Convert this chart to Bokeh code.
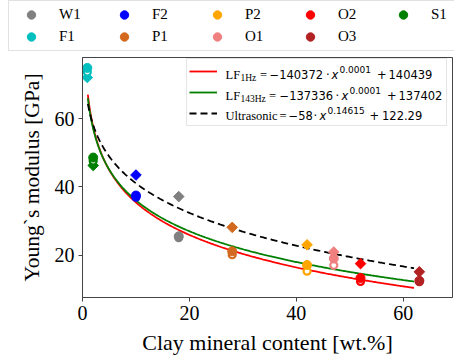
import numpy as np
from bokeh.plotting import figure
from bokeh.layouts import column
from bokeh.models import Legend, LegendItem, Label, Range1d, FixedTicker
from bokeh.embed import file_html
from bokeh.resources import INLINE

# --- measurements per sample -------------------------------------------------
samples = ["W1", "F1", "F2", "P1", "P2", "O1", "O2", "O3", "S1"]
colors = ["#808080", "#00BFBF", "#0000FF", "#D2691E", "#FFA500",
          "#F08080", "#FF0000", "#B22222", "#008000"]
clay_content = [18, 0.9, 10, 28, 42, 47, 52, 63, 2]          # wt.%
e_lf_143hz = [25.6, 74.8, 37.5, 21.2, 17.2, 19.1, 13.4, 12.6, 48.6]   # GPa
e_lf_1hz = [25.2, 73.6, 37.0, 20.2, 15.4, 17.1, 12.4, 12.3, 47.6]     # GPa
e_ultrasonic = [37.2, 72.0, 43.5, 28.2, 23.1, 21.0, 17.6, 15.2, 46.3]  # GPa

# power-law fits E = a * x**b + c  (legend shows rounded values)
fit_lf_1hz = (-140372, 0.0000975, 140439)
fit_lf_143hz = (-137336, 0.0000946, 137402)
fit_ultrasonic = (-58, 0.14615, 122.29)
fit_range = (1, 62)

x_ticks = [0, 20, 40, 60]
y_ticks = [20, 40, 60]

SERIF = "Liberation Serif"
SANS = "DejaVu Sans"

W, H = 454, 359
TOP_H = 52                      # strip holding the sample legend
# frame geometry in page pixels
FL, FR, FT, FB = 82, 452, 57, 297

# --- sample legend strip -----------------------------------------------------
top = figure(width=W, height=TOP_H, min_border=0, frame_align=False,
             x_range=Range1d(0, 1), y_range=Range1d(0, 1),
             output_backend="svg", toolbar_location=None)
top.axis.visible = False
top.grid.visible = False
top.outline_line_color = None

# off-range points: these renderers only supply the legend swatches
sample_glyphs = {}
for name, col in zip(samples, colors):
    sample_glyphs[name] = top.scatter(x=[-5], y=[-5], marker="circle",
                                      fill_color=col, line_color=col)

legend_order = ["W1", "F2", "P2", "O2", "S1", "F1", "P1", "O1", "O3"]
top_legend = Legend(
    items=[LegendItem(label=n, renderers=[sample_glyphs[n]]) for n in legend_order],
    orientation="horizontal", ncols=5,
    location=(8, TOP_H - 51),
    label_text_font=SERIF, label_text_font_size="15px", label_text_color="black",
    glyph_width=38, glyph_height=21, label_height=20,
    label_standoff=9, label_width=45, spacing=1, padding=3, margin=0,
    border_line_color="#c4c4c4", border_line_width=1,
    background_fill_color="white", background_fill_alpha=1,
)
top.add_layout(top_legend)

# --- main plot -------------------------------------------------------------
p = figure(width=W, height=H - TOP_H, frame_width=FR - FL, frame_height=FB - FT,
           min_border_left=FL, min_border_right=W - FR,
           min_border_top=FT - TOP_H, min_border_bottom=H - FB,
           frame_align=False,
           x_range=Range1d(0, 69.2), y_range=Range1d(7.7, 77.85),
           output_backend="svg", toolbar_location=None)

p.xgrid.visible = False
p.ygrid.visible = False
p.outline_line_color = "#444444"
p.outline_line_width = 1

for ax in (p.xaxis[0], p.yaxis[0]):
    ax.axis_line_color = "#444444"
    ax.major_tick_line_color = "#444444"
    ax.major_tick_in = 0
    ax.major_tick_out = 4
    ax.minor_tick_line_color = None
    ax.major_label_text_font = SERIF
    ax.major_label_text_font_size = "20px"
    ax.major_label_text_color = "black"
    ax.axis_label_text_font = SERIF
    ax.axis_label_text_font_style = "normal"
    ax.axis_label_text_color = "black"
    ax.major_label_standoff = 4

p.xaxis.axis_label_text_font_size = "22px"
p.yaxis.axis_label_text_font_size = "21.5px"
p.xaxis.ticker = FixedTicker(ticks=x_ticks)
p.yaxis.ticker = FixedTicker(ticks=y_ticks)
p.xaxis.axis_label = "Clay mineral content [wt.%]"
p.yaxis.axis_label = "Young`s modulus [GPa]"
p.xaxis.axis_label_standoff = 7
p.yaxis.axis_label_standoff = 8

# fitted curves
xf = np.linspace(fit_range[0], fit_range[1], 300)


def power_law(params, x):
    a, b, c = params
    return a * x ** b + c


r_1hz = p.line(xf, power_law(fit_lf_1hz, xf), line_color="#FF0000", line_width=1.8)
r_143 = p.line(xf, power_law(fit_lf_143hz, xf), line_color="#008000", line_width=1.8)
r_us = p.line(xf, power_law(fit_ultrasonic, xf), line_color="black", line_width=1.8,
              line_dash="7 4")

# measured points: ultrasonic (diamond), LF 1 Hz (open), LF 143 Hz (filled)
for name, col, x, e143, e1, eus in zip(samples, colors, clay_content,
                                        e_lf_143hz, e_lf_1hz, e_ultrasonic):
    p.scatter([x], [eus], marker="square", angle=np.pi / 4, size=7.5,
              fill_color=col, line_color=col)
    p.scatter([x], [e1], marker="circle", size=7, fill_color="white",
              line_color=col, line_width=2.2)
    p.scatter([x], [e143], marker="circle", size=9, fill_color=col, line_color=col)

# fit legend box inside the frame; the equations are drawn as labels on top
fit_legend = Legend(
    items=[LegendItem(label=" ", renderers=[r]) for r in (r_1hz, r_143, r_us)],
    location=(186 - FL, FB - 126), orientation="vertical",
    label_text_font_size="10px",
    glyph_width=28, glyph_height=20, label_height=20,
    label_standoff=9, label_width=218, spacing=1, padding=2, margin=0,
    border_line_color="#cccccc", border_line_width=1,
    background_fill_alpha=0,
)
p.add_layout(fit_legend)


def put(text, cx, cy, font, size, style="normal"):
    p.add_layout(Label(x=cx - FL, y=FB - cy, x_units="screen", y_units="screen",
                       text=text, text_font=font, text_font_size=size,
                       text_font_style=style, text_color="black",
                       text_align="left", text_baseline="middle"))


def fmt_coef(params):
    return "\u2212%g" % -params[0]


fit_rows = [
    # name, subscript, fit, exponent text, constant text, row y,
    # x of: name, subscript, "=", coefficient, dot, x, exponent, "+", constant
    ("LF", "1Hz", fit_lf_1hz, "0.0001", "140439", 74,
     (225, 240, 259.5, 269, 325.5, 331, 339, 376.5, 388)),
    ("LF", "143Hz", fit_lf_143hz, "0.0001", "137402", 95,
     (225, 240, 268.5, 279, 335, 341, 349, 386.5, 398)),
    ("Ultrasonic", "", fit_ultrasonic, "0.14615", "122.29", 115,
     (225, 0, 279, 288, 313, 319, 327, 369, 381.5)),
]
for name, sub, params, expo, const, cy, xs in fit_rows:
    x_name, x_sub, x_eq, x_coef, x_dot, x_x, x_exp, x_plus, x_const = xs
    put(name, x_name, cy, SERIF, "12.5px")
    if sub:
        put(sub, x_sub, cy + 3, SERIF, "9.5px")
    put("=", x_eq, cy, SERIF, "12.5px")
    put(fmt_coef(params), x_coef, cy, SANS, "11.5px")
    put("\u00b7", x_dot, cy, SANS, "11.5px")
    put("x", x_x, cy, SANS, "11.5px", "italic")
    put(expo, x_exp, cy - 5, SANS, "9px")
    put("+", x_plus, cy, SANS, "11.5px")
    put(const, x_const, cy, SANS, "11.5px")

layout = column(top, p, spacing=0)
open("out.html", "w").write(file_html(layout, INLINE))
